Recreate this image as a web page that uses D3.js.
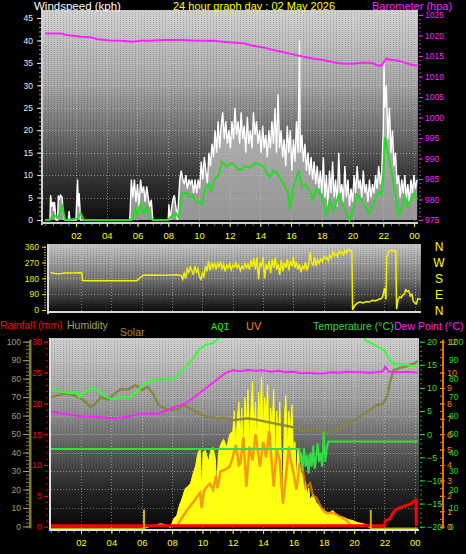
<!DOCTYPE html>
<html><head><meta charset="utf-8">
<script src="https://cdn.jsdelivr.net/npm/d3@7"></script>
<style>html,body{margin:0;padding:0;background:#000;}svg{display:block;}</style>
</head><body>
<svg id="c" width="466" height="554"></svg>
<script>
// ---------------- DATA ----------------
const hourTicks = [2,4,6,8,10,12,14,16,18,20,22,24];
const hourLabels = ["02","04","06","08","10","12","14","16","18","20","22","00"];
const windTicks = [0,5,10,15,20,25,30,35,40,45];
const baroTicks = [975,980,985,990,995,1000,1005,1010,1015,1020,1025];
const dirTicks = [0,90,180,270,360];
const compassLabels = ["N","E","S","W","N"];
const humTicks = [0,10,20,30,40,50,60,70,80,90,100];
const rainTicks = [0,5,10,15,20,25,30];
const tempTicks = [-20,-15,-10,-5,0,5,10,15,20];
const uvTicks = [0,1,2,3,4,5,6,7,8,9,10,12];
const aqiTicks = [0,10,20,30,40,50,60,70,80,90,100];

// [hour, kph]
const windGust = [[0,0],[0.3,0],[0.35,5.5],[0.4,3],[0.5,4],[0.55,2],[0.6,4],[0.7,0],[0.8,0],[0.85,5.5],[0.9,4.5],[1.0,5.5],[1.1,5],[1.15,2],[1.25,0],[1.5,0],[1.55,2],[1.6,0],[2.0,0],[2.05,5],[2.1,9],[2.15,3],[2.2,6],[2.3,0],[5.5,0],[5.6,9],[5.7,5],[5.8,9],[5.9,4],[6.0,8],[6.1,3],[6.2,9],[6.3,6],[6.4,7.5],[6.5,4],[6.6,7.5],[6.7,5],[6.8,3],[6.9,4.5],[7.0,0],[8.0,0],[8.05,3.5],[8.1,0],[8.3,4.5],[8.4,5.5],[8.5,3],[8.6,0],[8.75,9],[8.85,11],[8.95,9],[9.05,8],[9.15,10],[9.25,7],[9.35,9],[9.45,8],[9.55,9],[9.65,6],[9.75,9],[9.85,6],[9.95,9],[10.05,7],[10.15,13],[10.25,9],[10.35,14],[10.45,11],[10.55,8],[10.65,15],[10.75,12],[10.85,17],[10.95,14],[11.05,20],[11.15,15],[11.25,22],[11.35,16],[11.45,21],[11.55,24],[11.65,18],[11.75,22],[11.85,17],[11.95,20],[12.05,16],[12.15,22],[12.25,18],[12.35,25],[12.45,19],[12.55,22],[12.65,17],[12.75,24],[12.85,18],[12.95,21],[13.05,15],[13.15,23],[13.25,17],[13.35,20],[13.45,16],[13.55,24],[13.65,19],[13.75,22],[13.85,17],[13.95,20],[14.05,15],[14.15,21],[14.25,16],[14.35,19],[14.45,14],[14.55,20],[14.65,16],[14.75,22],[14.85,17],[14.95,25],[15.05,15],[15.15,28],[15.25,16],[15.35,20],[15.45,14],[15.55,18],[15.65,12],[15.75,21],[15.85,15],[15.95,20],[16.05,11],[16.15,18],[16.25,13],[16.35,22],[16.45,15],[16.55,40],[16.6,15],[16.7,19],[16.8,13],[16.9,17],[17.0,11],[17.1,15],[17.2,10],[17.3,14],[17.4,9],[17.5,13],[17.6,8],[17.7,12],[17.8,7],[17.9,11],[18.0,6],[18.1,14],[18.2,5],[18.3,10],[18.4,3],[18.5,11],[18.6,6],[18.7,13],[18.8,5],[18.9,9],[19.0,3],[19.1,15],[19.2,6],[19.3,8],[19.4,4],[19.5,12],[19.6,5],[19.7,9],[19.8,3],[19.9,7],[20.0,4],[20.1,10],[20.2,6],[20.3,12],[20.4,7],[20.5,9],[20.6,5],[20.7,11],[20.8,6],[20.9,8],[21.0,4],[21.1,9],[21.2,5],[21.3,8],[21.4,6],[21.5,10],[21.6,7],[21.7,12],[21.8,8],[21.9,11],[22.0,20],[22.05,35],[22.1,25],[22.2,30],[22.3,18],[22.4,25],[22.5,15],[22.6,20],[22.7,12],[22.8,15],[22.9,8],[23.0,10],[23.1,5],[23.2,9],[23.3,6],[23.4,10],[23.5,5],[23.6,8],[23.7,4],[23.8,9],[23.9,6],[24.0,10],[24.1,7],[24.2,9]];
const windAvg = [[0,0],[0.3,0],[0.4,0.5],[0.6,1],[0.8,0.5],[0.95,1.5],[1.1,3],[1.3,0],[2.1,0.3],[2.3,1.5],[2.5,0],[5.6,0],[5.7,0.5],[5.85,2.5],[6.0,1],[6.2,3.5],[6.4,1.5],[6.6,3],[6.8,0.5],[7.0,0],[8.0,0],[8.1,0.5],[8.3,1],[8.5,1.5],[8.7,0.5],[8.9,6],[9.2,6],[9.4,5],[9.6,5.5],[9.8,4],[10.0,4],[10.2,3.5],[10.4,7],[10.6,8],[10.8,6.5],[11.0,9],[11.3,10],[11.5,13],[11.8,12],[12.0,12.5],[12.2,12.7],[12.5,11.5],[12.7,11.1],[13.0,12],[13.3,11.6],[13.7,12.7],[14.0,12.3],[14.2,11.9],[14.4,10.5],[14.6,9.6],[14.85,11],[15.1,10.4],[15.35,9],[15.6,7.4],[15.8,6],[15.95,2.2],[16.1,7],[16.3,8.9],[16.5,11],[16.7,7.4],[16.9,7.9],[17.2,6.7],[17.4,4.5],[17.7,7.1],[18.0,5.2],[18.3,0.7],[18.5,4.5],[18.8,2.2],[19.1,5.6],[19.5,2.2],[19.8,0],[20.1,3],[20.3,5.6],[20.6,4.5],[20.8,3],[21.1,1.5],[21.5,4.8],[21.7,6.3],[21.9,5.9],[22.0,9],[22.1,18.5],[22.3,14.8],[22.6,9.6],[22.8,5.2],[23.0,0.7],[23.2,3],[23.4,5.2],[23.6,3],[23.8,4.5],[24.0,5.9],[24.2,4.5]];
// [hour, hPa]
const barometer = [[0,1020.5],[1,1020.5],[1.4,1020.1],[2.3,1019.7],[2.9,1019.6],[3.4,1019.1],[4.2,1018.8],[4.9,1018.7],[5.7,1018.5],[6.2,1018.7],[6.8,1018.7],[7.8,1018.9],[8.8,1018.9],[9.9,1018.7],[11.0,1018.7],[11.7,1018.4],[12.2,1018.3],[12.9,1018.1],[13.5,1017.5],[14.2,1017.1],[14.8,1016.5],[15.5,1015.9],[16.1,1015.4],[16.8,1014.8],[17.4,1014.4],[18.1,1014.0],[18.7,1013.5],[19.4,1013.1],[20.0,1013.1],[20.7,1013.4],[21.3,1013.3],[21.7,1012.6],[21.9,1012.8],[22.2,1014.4],[22.4,1014.1],[22.9,1013.9],[23.3,1013.5],[23.7,1013.0],[24.2,1012.6]];
// [hour, degrees]
const windDir = [[0,212],[0.3,208],[0.6,206],[0.9,210],[1.2,211],[1.5,211],[1.8,212],[2.05,211],[2.1,168],[2.5,166],[5.5,166],[5.7,168],[5.9,185],[6.1,198],[6.5,199],[7.5,198],[8.3,200],[8.6,197],[8.7,175],[8.8,210],[8.9,180],[9.0,235],[9.1,215],[9.2,245],[9.3,225],[9.4,200],[9.5,250],[9.6,215],[9.7,235],[9.8,190],[9.9,175],[10.0,210],[10.1,190],[10.2,250],[10.3,220],[10.4,280],[10.5,225],[10.6,270],[10.7,240],[10.8,270],[10.9,230],[11.0,265],[11.1,245],[11.2,275],[11.3,235],[11.4,260],[11.5,220],[11.6,255],[11.7,240],[11.8,265],[11.9,230],[12.0,255],[12.1,245],[12.2,270],[12.3,240],[12.4,255],[12.5,225],[12.6,250],[12.7,235],[12.8,265],[12.9,240],[13.0,260],[13.1,230],[13.2,285],[13.3,245],[13.4,295],[13.5,230],[13.6,300],[13.7,175],[13.8,270],[13.9,250],[14.0,300],[14.1,180],[14.2,260],[14.3,230],[14.4,280],[14.5,210],[14.6,290],[14.7,240],[14.8,300],[14.9,230],[15.0,260],[15.1,200],[15.2,285],[15.3,220],[15.4,270],[15.5,240],[15.6,290],[15.7,225],[15.8,280],[15.9,250],[16.0,300],[16.1,240],[16.2,275],[16.3,230],[16.4,260],[16.5,215],[16.6,250],[16.7,235],[16.8,270],[16.9,230],[17.0,250],[17.1,330],[17.2,270],[17.3,255],[17.4,300],[17.5,250],[17.6,285],[17.7,265],[17.8,290],[17.9,275],[18.0,305],[18.1,290],[18.2,300],[18.3,280],[18.4,310],[18.5,295],[18.6,330],[18.7,310],[18.8,320],[18.9,305],[19.0,335],[19.1,320],[19.2,330],[19.3,315],[19.4,340],[19.5,325],[19.6,345],[19.7,335],[19.8,340],[19.85,330],[19.9,0],[20.0,20],[20.2,40],[20.4,45],[20.6,40],[20.8,48],[21.0,45],[21.2,55],[21.4,52],[21.6,60],[21.8,65],[21.9,80],[22.0,125],[22.05,95],[22.1,60],[22.15,300],[22.25,330],[22.4,340],[22.5,335],[22.6,340],[22.7,330],[22.75,340],[22.8,5],[22.9,60],[23.0,75],[23.1,70],[23.2,85],[23.3,90],[23.4,115],[23.5,105],[23.6,110],[23.7,80],[23.8,90],[23.9,50],[24.0,40],[24.1,35],[24.2,65],[24.4,60]];
// [hour, %]
const humidity = [[0,69.8],[0.5,71.1],[1.0,72.0],[1.5,71.1],[1.9,69.8],[2.3,67.4],[2.6,64.7],[2.9,66.0],[3.3,69.8],[3.8,68.7],[4.1,71.1],[4.6,74.3],[5.1,74.2],[5.6,76.5],[6.0,73.8],[6.4,75.6],[6.8,71.1],[7.1,65.7],[7.5,63.9],[8.0,62.9],[8.4,63.5],[8.7,65.7],[9.0,64.7],[9.4,62.9],[9.8,61.1],[10.2,59.7],[10.6,59.3],[11.0,58.4],[11.4,58.8],[11.8,57.5],[12.0,57.5],[13.0,58.6],[14.0,57.0],[15.0,55.3],[16.0,53.7],[16.8,51.5],[17.5,53.2],[18.1,50.5],[18.6,52.1],[19.2,53.2],[19.6,55.9],[20.0,57.5],[20.5,60.2],[21.0,62.9],[21.5,65.7],[21.9,66.2],[22.2,71.1],[22.4,79.2],[22.6,84.6],[23.0,85.7],[23.5,86.8],[24.0,88.4],[24.2,89.5]];
// [hour, °C]
const temperature = [[0,9.9],[0.6,9.3],[1.3,8.8],[1.7,9.2],[1.9,8.0],[2.4,9.6],[2.8,10.1],[3.25,9.2],[3.7,8.0],[4.1,7.5],[4.6,8.0],[5.2,8.0],[5.7,9.2],[6.2,11.1],[6.9,11.7],[7.5,11.9],[8.2,12.1],[8.5,13.2],[9.0,15.0],[9.5,16.8],[9.8,18.4],[10.2,19.3],[10.7,19.7],[11.0,20.5],[11.4,22],[12.0,24],[20.0,24],[20.6,21],[20.8,20.2],[21.4,19.2],[22.0,18.1],[22.4,15.6],[22.7,15.2],[23.4,15.0],[24.2,14.5]];
const dewPoint = [[0,4.9],[0.9,4.4],[1.9,3.9],[3.25,3.7],[4.2,3.4],[5.2,3.9],[5.9,4.4],[6.9,4.4],[7.5,4.9],[8.2,5.9],[8.9,6.7],[9.5,8.1],[10.2,9.9],[10.8,11.4],[11.5,13.2],[12.0,13.8],[12.5,13.6],[13.0,13.9],[13.5,13.7],[14.0,13.8],[14.5,13.5],[15.0,13.7],[15.5,13.4],[16.0,13.5],[16.5,13.2],[17.0,13.3],[17.5,13.1],[18.0,13.2],[18.5,13.4],[19.0,13.3],[19.5,13.5],[20.0,13.4],[20.5,13.4],[21.0,13.3],[21.5,13.4],[21.9,13.6],[22.05,14.6],[22.3,13.5],[23.0,13.4],[23.5,13.5],[24.2,13.3]];
// [hour, AQI]
const aqi = [[0,42],[16.4,42],[16.45,35],[16.5,40],[16.6,30],[16.7,42.5],[16.8,32.5],[16.9,38.8],[17.0,28.8],[17.1,40],[17.2,32.5],[17.3,43.8],[17.4,31.3],[17.5,37.5],[17.6,45],[17.7,35],[17.8,40],[17.9,32.5],[18.0,51.3],[18.1,35],[18.2,42.5],[18.3,46],[24.2,46]];
// [hour, W/m²]
const solar = [[0,0],[6.2,0],[6.5,10],[7.0,15],[7.2,22],[7.5,18],[7.9,5],[8.1,55],[8.3,75],[8.5,150],[8.6,172],[8.85,250],[9.0,260],[9.2,282],[9.4,355],[9.55,400],[9.7,485],[9.85,508],[9.95,260],[10.05,490],[10.2,497],[10.4,430],[10.55,500],[10.7,520],[10.85,450],[10.95,260],[11.05,480],[11.2,540],[11.4,572],[11.6,520],[11.8,605],[12.0,620],[12.1,760],[12.2,520],[12.3,700],[12.4,820],[12.5,600],[12.6,780],[12.7,450],[12.8,850],[12.9,640],[13.0,900],[13.1,560],[13.2,760],[13.3,950],[13.4,620],[13.5,820],[13.6,500],[13.7,880],[13.8,700],[13.9,980],[14.0,600],[14.1,850],[14.2,720],[14.3,930],[14.4,420],[14.5,780],[14.6,650],[14.7,900],[14.8,380],[14.9,760],[15.0,560],[15.1,820],[15.2,470],[15.3,150],[15.4,700],[15.5,860],[15.6,520],[15.7,760],[15.8,620],[15.9,800],[16.0,480],[16.1,560],[16.2,300],[16.3,520],[16.4,420],[16.5,350],[16.6,350],[16.7,250],[16.8,300],[16.9,200],[17.0,260],[17.1,180],[17.3,215],[17.5,160],[17.8,128],[18.0,110],[18.2,97],[18.4,95],[18.6,108],[18.8,85],[19.0,70],[19.3,65],[19.6,50],[19.9,43],[20.2,30],[20.6,22],[20.8,15],[21.0,5],[21.1,0],[24.2,0]];
const uvIndex = [[8.3,0],[8.6,0.5],[9.0,1.1],[9.4,1.6],[9.7,2.0],[9.85,2.2],[9.95,1.2],[10.1,2.3],[10.3,2.6],[10.5,2.8],[10.7,2.4],[10.9,3.3],[11.0,2.5],[11.2,3.6],[11.5,3.7],[11.8,3.9],[12.0,4.5],[12.2,5.3],[12.4,4.0],[12.5,4.1],[12.7,5.8],[12.9,2.6],[13.1,5.2],[13.3,4.3],[13.5,6.0],[13.8,3.9],[14.0,5.5],[14.2,4.5],[14.4,6.2],[14.7,2.6],[14.9,5.0],[15.1,4.3],[15.3,1.5],[15.5,3.2],[15.7,5.2],[15.8,4.45],[16.0,3.5],[16.2,2.4],[16.4,4.0],[16.6,3.8],[16.8,2.5],[17.1,2.8],[17.3,2.0],[17.5,1.9],[17.8,1.3],[18.0,1.0],[18.2,0.87],[18.6,0.9],[19.1,0.65],[19.5,0.4],[19.9,0]];
// [hour, mm]
const rainfall = [[0,0],[22.0,0],[22.05,0.8],[22.35,1.1],[22.5,1.8],[22.6,2.2],[22.8,2.7],[23.2,3.1],[23.7,3.5],[24.0,4.05],[24.08,4.1],[24.1,0]];
const sunEvents = [6.15, 21.1];

// ---------------- SETUP ----------------
const svg = d3.select('#c');
const defs = svg.append('defs');
const FONT = '"Liberation Sans", Arial, sans-serif';

function grad(id, stops){
  const g = defs.append('linearGradient').attr('id',id).attr('x1',0).attr('y1',0).attr('x2',0).attr('y2',1);
  stops.forEach(([o,c]) => g.append('stop').attr('offset',o).attr('stop-color',c));
}
function clip(id, p){
  defs.append('clipPath').attr('id',id).append('rect')
    .attr('x',p.x0).attr('y',p.y0).attr('width',p.x1-p.x0).attr('height',p.y1-p.y0);
}
const pat = defs.append('pattern').attr('id','dots').attr('width',3).attr('height',2).attr('patternUnits','userSpaceOnUse');
pat.append('rect').attr('x',0).attr('y',0).attr('width',1).attr('height',1).attr('fill','#000').attr('opacity',0.18);

grad('g1', [[0,'#d2d2d2'],[0.35,'#a8a8a8'],[0.6,'#6a6a6a'],[0.8,'#333'],[1,'#0c0c0c']]);
grad('g2', [[0,'#c8c8c8'],[0.5,'#7a7a7a'],[1,'#0e0e0e']]);
grad('g3', [[0,'#d0d0d0'],[0.35,'#9c9c9c'],[0.6,'#5a5a5a'],[0.8,'#262626'],[1,'#050505']]);

const P1 = {x0:43, x1:418, y0:10, y1:222};
const P2 = {x0:49, x1:421, y0:244, y1:311};
const P3 = {x0:51, x1:419, y0:338, y1:529};
clip('c1',P1); clip('c2',P2); clip('c3',P3);

// scales
const xTop = d3.scaleLinear().domain([0,24]).range([45.3,414]);
const yWind = d3.scaleLinear().domain([0,45]).range([220,18]);
const yBaro = d3.scaleLinear().domain([975,1025]).range([220,15]);
const xBot = d3.scaleLinear().domain([0,24]).range([50.7,414.8]);
const yDir = d3.scaleLinear().domain([0,360]).range([310,246.7]);
const yHum = d3.scaleLinear().domain([0,100]).range([526.4,341.7]);
const yRain = d3.scaleLinear().domain([0,30]).range([526.7,341.7]);
const yTemp = d3.scaleLinear().domain([-20,20]).range([526.7,341.7]);
const yUV = d3.scaleLinear().domain([0,12]).range([526.7,341.7]);
const yAqi = d3.scaleLinear().domain([0,100]).range([526.7,341.7]);
const ySolar = d3.scaleLinear().domain([0,1200]).range([526.7,341.7]);

function panelBg(p, g){
  svg.append('rect').attr('x',p.x0).attr('y',p.y0).attr('width',p.x1-p.x0).attr('height',p.y1-p.y0).attr('fill',`url(#${g})`);
  svg.append('rect').attr('x',p.x0).attr('y',p.y0).attr('width',p.x1-p.x0).attr('height',p.y1-p.y0).attr('fill','url(#dots)');
}
function grid(p, xs, xVals, ys, yVals){
  const g = svg.append('g').attr('stroke','#e8e8e8').attr('stroke-opacity',0.45).attr('stroke-dasharray','1,2').attr('stroke-width',1);
  xVals.forEach(v => g.append('line').attr('x1',Math.round(xs(v))+0.5).attr('x2',Math.round(xs(v))+0.5).attr('y1',p.y0).attr('y2',p.y1));
  yVals.forEach(v => g.append('line').attr('y1',Math.round(ys(v))+0.5).attr('y2',Math.round(ys(v))+0.5).attr('x1',p.x0).attr('x2',p.x1));
}
function styleAxis(g, color, size, family){
  g.select('.domain').remove();
  g.selectAll('line').attr('stroke',color);
  g.selectAll('text').attr('fill',color).attr('font-size',size).attr('font-family',family||FONT);
  g.attr('font-family',family||FONT);
  return g;
}
function addAxis(axis, x, y, color, size, family){
  return styleAxis(svg.append('g').attr('transform',`translate(${x},${y})`).call(axis), color, size, family);
}
const line = (xs, ys) => d3.line().x(d => xs(d[0])).y(d => ys(d[1]));

// ---------------- PANEL 1 : wind + barometer ----------------
panelBg(P1,'g1');
grid(P1, xTop, hourTicks, yWind, windTicks.filter(v=>v>0));
const L1 = svg.append('g').attr('clip-path','url(#c1)');
L1.append('path')
  .attr('d', d3.area().x(d=>xTop(d[0])).y0(yWind(0)).y1(d=>yWind(d[1]))(windGust))
  .attr('fill','#c4c4c4').attr('fill-opacity',0.75);
L1.append('path').datum(windGust).attr('d', line(xTop,yWind)).attr('fill','none').attr('stroke','#ffffff').attr('stroke-width',1.4);
L1.append('path').datum(windAvg).attr('d', line(xTop,yWind)).attr('fill','none').attr('stroke','#22dd22').attr('stroke-width',2);
L1.append('path').datum(barometer).attr('d', line(xTop,yBaro)).attr('fill','none').attr('stroke','#ff22ff').attr('stroke-width',2);
svg.append('rect').attr('x',41).attr('y',P1.y0).attr('width',2).attr('height',P1.y1-P1.y0+3).attr('fill','#cfcfcf');
svg.append('rect').attr('x',41).attr('y',P1.y1).attr('width',P1.x1-41).attr('height',2).attr('fill','#cfcfcf');

addAxis(d3.axisLeft(yWind).tickValues(d3.range(0,46,1)).tickSize(2).tickFormat(''), 41, 0, '#9a9a9a', 8);
addAxis(d3.axisLeft(yWind).tickValues(windTicks).tickSize(4).tickPadding(4).tickFormat(d3.format('d')), 41, 0, '#e4ecff', 8.5);
addAxis(d3.axisRight(yBaro).tickValues(d3.range(975,1026,1)).tickSize(2).tickFormat(''), 419, 0, '#cc22cc', 8);
addAxis(d3.axisRight(yBaro).tickValues(baroTicks).tickSize(4).tickPadding(2).tickFormat(d3.format('d')), 419, 0, '#ff22ff', 8.5);
addAxis(d3.axisBottom(xTop).tickValues(d3.range(0,24.5,0.5)).tickSize(2).tickFormat(''), 0, P1.y1+2, '#777', 8);
addAxis(d3.axisBottom(xTop).tickValues(hourTicks).tickSize(3).tickPadding(5).tickFormat((d,i)=>hourLabels[i]), 0, P1.y1+2, '#ffff00', 9.5);

// ---------------- PANEL 2 : wind direction ----------------
panelBg(P2,'g2');
grid(P2, xBot, hourTicks, yDir, [90,180,270]);
const L2 = svg.append('g').attr('clip-path','url(#c2)');
L2.append('path').datum(windDir).attr('d', line(xBot,yDir)).attr('fill','none').attr('stroke','#f2f200').attr('stroke-width',1.5);
svg.append('rect').attr('x',47).attr('y',P2.y0).attr('width',2).attr('height',P2.y1-P2.y0+3).attr('fill','#d8d8d8');
svg.append('rect').attr('x',47).attr('y',P2.y1).attr('width',P2.x1-47).attr('height',2).attr('fill','#d8d8d8');
addAxis(d3.axisLeft(yDir).tickValues(d3.range(0,361,15)).tickSize(2).tickFormat(''), 46, 0, '#b0b040', 8);
addAxis(d3.axisLeft(yDir).tickValues(dirTicks).tickSize(4).tickPadding(3).tickFormat(d3.format('d')), 46, 0, '#eeee00', 8.5);
svg.append('g').selectAll('text').data(dirTicks).join('text')
  .attr('x',439).attr('y',d=>yDir(d)+4.5).attr('text-anchor','middle')
  .attr('fill','#ffff00').attr('font-size',12).attr('font-family',FONT)
  .text((d,i)=>compassLabels[i]);

// ---------------- PANEL 3 ----------------
panelBg(P3,'g3');
grid(P3, xBot, hourTicks, yHum, [10,20,30,40,50,60,70,80,90]);
const L3 = svg.append('g').attr('clip-path','url(#c3)');
L3.append('path').attr('d', d3.area().x(d=>xBot(d[0])).y0(yTemp(-20)).y1(d=>ySolar(d[1]))(solar))
  .attr('fill','#ffff10');
L3.append('path').datum(solar).attr('d', line(xBot,ySolar)).attr('fill','none').attr('stroke','#ffff00').attr('stroke-width',1)
  .attr('transform','translate(0,1.5)');
L3.append('path').datum(uvIndex).attr('d', line(xBot,yUV)).attr('fill','none').attr('stroke','#f07a18').attr('stroke-opacity',0.75).attr('stroke-width',2.5);
L3.append('path').datum(humidity).attr('d', line(xBot,yHum)).attr('fill','none').attr('stroke','#85853c').attr('stroke-opacity',0.9).attr('stroke-width',2.5);
L3.append('path').datum(dewPoint).attr('d', line(xBot,yTemp)).attr('fill','none').attr('stroke','#ff22ff').attr('stroke-width',2);
L3.append('path').datum(aqi).attr('d', line(xBot,yAqi)).attr('fill','none').attr('stroke','#33dd44').attr('stroke-width',2);
L3.append('path').datum(temperature).attr('d', line(xBot,yTemp)).attr('fill','none').attr('stroke','#33ff33').attr('stroke-width',2);
L3.append('path').datum(rainfall).attr('d', line(xBot,yRain)).attr('fill','none').attr('stroke','#ff0000').attr('stroke-width',3)
  .attr('transform','translate(0,-1)');
sunEvents.forEach(h => L3.append('line').attr('x1',xBot(h)).attr('x2',xBot(h)).attr('y1',yHum(9)).attr('y2',P3.y1).attr('stroke','#c8b400').attr('stroke-width',2));
svg.append('rect').attr('x',49).attr('y',P3.y0).attr('width',2).attr('height',P3.y1-P3.y0+2).attr('fill','#e0e0e0');
svg.append('rect').attr('x',49).attr('y',P3.y1).attr('width',P3.x1-49).attr('height',2).attr('fill','#e0e0e0');

// left axes
svg.append('rect').attr('x',29).attr('y',yHum(100)-2).attr('width',2.5).attr('height',yHum(0)-yHum(100)+4).attr('fill','#7d7d3a');
addAxis(d3.axisLeft(yHum).tickValues(d3.range(0,101,2)).tickSize(3).tickFormat(''), 29, 0, '#7d7d3a', 8);
addAxis(d3.axisLeft(yHum).tickValues(humTicks).tickSize(6).tickPadding(2).tickFormat(d3.format('d')), 29, 0, '#a0a068', 8.5);
addAxis(d3.axisLeft(yRain).tickValues(d3.range(0,31,1)).tickSize(2).tickFormat(''), 48, 0, '#dd0000', 8);
addAxis(d3.axisLeft(yRain).tickValues(rainTicks).tickSize(4).tickPadding(2).tickFormat(d3.format('d')), 48, 0, '#ff0000', 9);
// right axes
addAxis(d3.axisRight(yTemp).tickValues(d3.range(-20,21,1)).tickSize(2).tickFormat(''), 420, 0, '#22aa22', 8);
addAxis(d3.axisRight(yTemp).tickValues(tempTicks).tickSize(5).tickPadding(2).tickFormat(d3.format('d')), 420, 0, '#33dd33', 9);
svg.append('rect').attr('x',442).attr('y',yUV(12)-2).attr('width',2).attr('height',yUV(0)-yUV(12)+4).attr('fill','#e07010');
addAxis(d3.axisRight(yUV).tickValues(d3.range(0,12.1,0.5)).tickSize(3).tickFormat(''), 440, 0, '#e07010', 8);
addAxis(d3.axisRight(yUV).tickValues(uvTicks).tickSize(5).tickPadding(2).tickFormat(d3.format('d')), 440, 0, '#ff7f10', 9);
addAxis(d3.axisRight(yAqi).tickValues(aqiTicks).tickSize(0).tickPadding(9).tickFormat(d3.format('d')), 440, 0, '#22dd22', 8.5);

addAxis(d3.axisBottom(xBot).tickValues(d3.range(0,24.5,0.5)).tickSize(2).tickFormat(''), 0, P3.y1+2, '#777', 8);
addAxis(d3.axisBottom(xBot).tickValues(hourTicks).tickSize(3).tickPadding(5).tickFormat((d,i)=>hourLabels[i]), 0, P3.y1+2, '#ffff00', 9.5);

// ---------------- TITLES ----------------
const T = (x,y,txt,col,size,fam) => svg.append('text').attr('x',x).attr('y',y).attr('fill',col)
  .attr('font-size',size).attr('font-family',fam||FONT).text(txt);
T(34,10,'Windspeed (kph)','#ffffff',11.5);
T(173,10,'24 hour graph day : 02 May 2026','#ffff00',11);
T(372,10,'Barometer (hpa)','#ff22ff',11);
T(0,329,'Rainfall (mm)','#ff0000',10.5);
T(67,329,'Humidity','#a0a068',10.5);
T(120,336,'Solar','#a89020',10.5);
T(211,330,'AQI','#22ee22',10.5,'"Liberation Mono", monospace');
T(246,330,'UV','#ff8010',11);
T(313,330,'Temperature (°C)','#33dd33',10.5);
T(394,330,'Dew Point (°C)','#ff22ff',10.5);
</script>
</body></html>
